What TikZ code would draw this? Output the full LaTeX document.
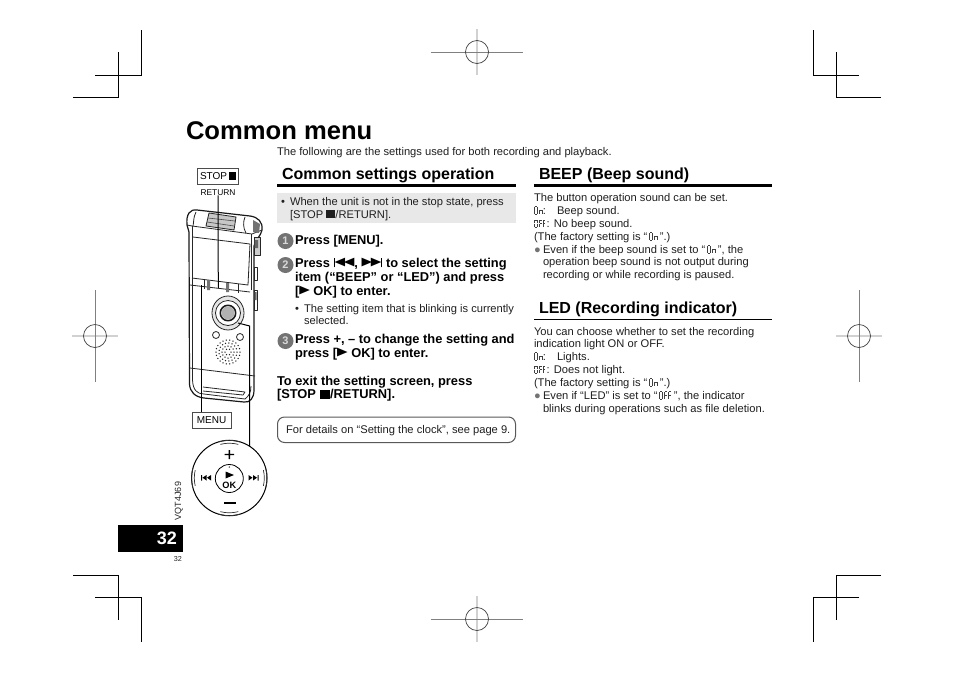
\documentclass[tikz,border=0pt]{standalone}
\usepackage{fontspec}
\usepackage{graphicx}
\setmainfont{Liberation Sans}
\newfontfamily\symf{DejaVu Sans}
\usetikzlibrary{shapes.geometric}
\newcommand\sg[4]{\rlap{\raisebox{#2pt}{\hspace*{#1pt}\textcolor{black!75}{\rule{#3pt}{#4pt}}}}}
\newcommand\sO{\sg{.6}{0}{2}{.45}\sg{.6}{7.4}{2}{.45}\sg{0}{.5}{.45}{3.2}\sg{0}{4.2}{.45}{3.2}\sg{2.8}{.5}{.45}{3.2}\sg{2.8}{4.2}{.45}{3.2}\hspace{5pt}}
\newcommand\sn{\sg{.6}{3.7}{2}{.45}\sg{0}{.5}{.45}{3.2}\sg{2.8}{.5}{.45}{3.2}\hspace{3.8pt}}
\newcommand\sF{\sg{.6}{3.7}{2}{.45}\sg{.6}{7.4}{2}{.45}\sg{0}{.5}{.45}{3.2}\sg{0}{4.2}{.45}{3.2}\hspace{3.8pt}}
\newcommand\segOn{\sO\sn}
\newcommand\segOff{\sO\sF\sF}
\newcommand\stopsq{\rule[-.02em]{.82em}{.72em}}
\newcommand\tri[1]{\raisebox{.09em}{\scalebox{1.2}[1]{\symf\fontsize{11.5}{12}\selectfont #1}}}
\newcommand\playsym{\tri{▶}}
\newcommand\prevsym{\rule[-.02em]{.08em}{.72em}\tri{◀\kern-.1em◀}}
\newcommand\nextsym{\tri{▶\kern-.1em▶}\rule[-.02em]{.08em}{.72em}}
\tikzset{
 every node/.style={inner sep=0pt,outer sep=0pt},
 tl/.style={anchor=base west,font=\fontsize{11.15}{12}\selectfont,text=black!88},
 bl/.style={anchor=base west,font=\fontsize{12.85}{14}\bfseries\selectfont},
 hd/.style={anchor=base west,font=\fontsize{16}{18}\bfseries\selectfont},
 crop/.style={line width=1pt,black},
 regthick/.style={line width=1.6pt,black!18},
 regthin/.style={line width=.7pt,black!50},
 regcirc/.style={line width=.7pt,black!75},
 stepdot/.style={circle,fill=black!55,minimum size=16pt,text=white!85!black,font=\fontsize{11}{11}\bfseries\selectfont},
 keybox/.style={draw=black!70,line width=.8pt,fill=white,minimum height=16pt,font=\fontsize{10}{10}\selectfont},
 dev/.style={line width=.8pt,black!85,line join=round},
 devo/.style={line width=1.2pt,black!90,line join=round},
 leader/.style={line width=1pt,black},
 hrule/.style={fill=black},
 nub/.style={line width=.7pt,black!80},
}
\begin{document}
\begin{tikzpicture}[x=1pt,y=-1pt]
\useasboundingbox (0,0) rectangle (954,673);
\fill[white] (0,0) rectangle (954,673);
% crop marks
\draw[crop] (141.5,30)--(141.5,75)--(95,75) (118.5,52)--(118.5,97)--(73,97);
\draw[crop] (813.5,30)--(813.5,75)--(859,75) (836.5,52)--(836.5,97)--(881,97);
\draw[crop] (73,575)--(118.5,575)--(118.5,620) (95,597)--(141.5,597)--(141.5,642);
\draw[crop] (881,575)--(836.5,575)--(836.5,620) (859,597)--(813.5,597)--(813.5,642);
% registration
\foreach \cx/\cy in {477/52,477/619}{
 \draw[regthick] (\cx,\cy-23)--(\cx,\cy+23);
 \draw[regthin] (\cx-46,\cy)--(\cx+46,\cy);
 \draw[regcirc] (\cx,\cy) circle (11.5);}
\foreach \cx/\cy in {95/336,859/336}{
 \draw[regthick] (\cx-23,\cy)--(\cx+23,\cy);
 \draw[regthin] (\cx,\cy-46)--(\cx,\cy+46);
 \draw[regcirc] (\cx,\cy) circle (11.5);}
% title
\node[anchor=base west,font=\fontsize{25.6}{28}\bfseries\selectfont] (title) at (186,139) {Common menu};
\node[tl] (sub) at (277,155) {The following are the settings used for both recording and playback.};
% headings
\node[hd] (h1) at (282,179) {Common settings operation};
\node[hd] (h2) at (539,179) {BEEP (Beep sound)};
\node[hd] (h3) at (539,313) {LED (Recording indicator)};
\fill[hrule] (277,184) rectangle (516,187);
\fill[hrule] (534,184) rectangle (772,187);
\fill[hrule] (534,318.5) rectangle (772,320.2);
% grey note
\fill[black!9] (277,193) rectangle (516,223);
\node[tl] (b0) at (281,205) {•};
\node[tl] (t01) at (290,205) {When the unit is not in the stop state, press};
\node[tl] (t02) at (290,218) {[STOP \stopsq/RETURN].};
% steps
\node[stepdot] (s1) at (285.5,241) {1};
\node[stepdot] (s2) at (285.5,265) {2};
\node[stepdot] (s3) at (285.5,341) {3};
\node[bl] (l1) at (295,244) {Press [MENU].};
\node[bl] (l2) at (295,267) {Press \prevsym, \nextsym\ to select the setting};
\node[bl] (l3) at (295,281) {item (“BEEP” or “LED”) and press};
\node[bl] (l4) at (295,295) {[\playsym\ OK] to enter.};
\node[tl] (b1) at (295,312) {•};
\node[tl] (l5) at (304,312) {The setting item that is blinking is currently};
\node[tl] (l6) at (304,324.5) {selected.};
\node[bl] (l7) at (295,343) {Press +, – to change the setting and};
\node[bl] (l8) at (295,357) {press [\playsym\ OK] to enter.};
\node[bl] (l9) at (277,385) {To exit the setting screen, press};
\node[bl] (l10) at (277,398.7) {[STOP \stopsq/RETURN].};
\draw[line width=1pt,black!65,rounded corners=7pt] (277.5,417) rectangle (515.5,442.5);
\node[tl] (l11) at (286,433) {For details on “Setting the clock”, see page 9.};
% BEEP
\node[tl] (r1) at (534,201) {The button operation sound can be set.};
\node[tl] (r2) at (534,214) {\segOn:};
\node[tl] (r2b) at (557,214) {Beep sound.};
\node[tl] (r3) at (534,227.5) {\segOff: No beep sound.};
\node[tl] (r4) at (534,240) {(The factory setting is “\,\segOn\,”.)};
\node[tl,text=black!55] (b2) at (534,253) {●};
\node[tl] (r5) at (543,253) {Even if the beep sound is set to “\,\segOn\,”, the};
\node[tl] (r6) at (543,265.5) {operation beep sound is not output during};
\node[tl] (r7) at (543,278) {recording or while recording is paused.};
% LED
\node[tl] (q1) at (534,335) {You can choose whether to set the recording};
\node[tl] (q2) at (534,347.5) {indication light ON or OFF.};
\node[tl] (q3) at (534,360) {\segOn:};
\node[tl] (q3b) at (557,360) {Lights.};
\node[tl] (q4) at (534,373.5) {\segOff: Does not light.};
\node[tl] (q5) at (534,386) {(The factory setting is “\,\segOn\,”.)};
\node[tl,text=black!55] (b3) at (534,399) {●};
\node[tl] (q6) at (543,399) {Even if “LED” is set to “\,\segOff\,”, the indicator};
\node[tl] (q7) at (543,412) {blinks during operations such as file deletion.};
% page tab
\fill[black] (118,525) rectangle (182.5,552);
\node[anchor=base east,text=white,font=\fontsize{18}{20}\bfseries\selectfont] (pg) at (177,544) {32};
\node[anchor=base east,font=\fontsize{7.2}{8}\selectfont,text=black!85] (pg2) at (182,561) {32};
\node[anchor=base west,rotate=90,font=\fontsize{9}{10}\selectfont,text=black!85] (vqt) at (181,520) {VQT4J69};
% device
\draw[devo] (187,225) .. controls (186,214) and (190,209) .. (197,210) -- (250,216) .. controls (258,217) and (263,222) .. (262,230) .. controls (261,236) and (255,240) .. (254,246) -- (254,390) .. controls (254,398) and (250,403) .. (244,402) -- (204,398) .. controls (195,397) and (190,392) .. (189.5,384) -- (189,232) -- cycle;
\draw[dev] (187,225) -- (192,226) -- (252,234) -- (262,230);
\draw[dev] (192.5,226) -- (192.5,380) .. controls (193,390) and (197,394) .. (204,394) -- (245,399) .. controls (249,396) and (251,392) .. (251,386);
\draw[dev] (251,234) -- (251,290);
\draw[dev] (193,237) -- (250,244) -- (248,285) -- (192,278);
\draw[dev] (190,285) -- (250,292);
\draw[dev] (204,279) -- (204,289) (238,284) -- (238,293);
\fill[black!55] (207,280) rectangle (210,290) (226,283) rectangle (229,292);
% cap shading
\draw[dev,fill=black!22] (209,213) -- (236,217) -- (234,230) -- (206,226) -- cycle;
\draw[line width=.6pt,black!70] (208,218)--(235,221) (207,222)--(234,226);
\draw[dev] (196,212) .. controls (193,218) and (194,222) .. (193,226);
\draw[dev] (245,217) .. controls (243,222) and (243,228) .. (246,233);
\fill[black!55] (253,220) -- (260,224) -- (259,233) -- (253,232) -- cycle;
% side controls
\draw[dev,fill=black!20] (254,237) rectangle (260,255);
\draw[dev] (254,267) rectangle (257,280) (254,290) rectangle (257,310);
\fill[black!60] (254.5,240) rectangle (258,248) (254.5,292) rectangle (256.5,300);
% keys ring
\draw[dev,fill=black!10] (228,313) ellipse (16 and 17);
\draw[dev,fill=white] (228,313) circle (12.5);
\draw[devo,line width=1.6pt] (228,313) circle (7.7);
\fill[black!30] (228,313) circle (6.5);
\draw[dev] (216,335) circle (3.5) (240,337) circle (3.5);
\foreach \r/\n in {3/6,6/12,9/17,12/22}{
 \foreach \a in {1,...,\n}{\fill[black!85] ({228+\r*cos(\a*360/\n)},{352+\r*sin(\a*360/\n)}) circle (.75);}}
\draw[dev] (190,368) -- (255,376);
\draw[dev] (203,387) -- (245,392) -- (243,395) -- (203,391);
% keys
\node[keybox,minimum width=41pt] (stop) at (218,176) {STOP\,\rule{.72em}{.72em}};
\node[font=\fontsize{8.4}{9}\selectfont] (ret) at (218,192.5) {RETURN};
\node[keybox,minimum width=39pt] (menu) at (211.5,420) {MENU};
\coordinate (menuend) at (201.7,285);
\coordinate (retend) at (218.3,288);
\coordinate (dialend) at (238,323);
\coordinate (dialknee) at (249.7,326);
\coordinate (dialin) at (249.7,447);
\draw[leader] (ret.south) -- (retend);
\draw[leader] (menu.north -| menuend) -- (menuend);
\draw[leader] (dialend) -- (dialknee) -- (dialin);
% dial
\coordinate (dc) at (229.3,478);
\draw[line width=1pt,fill=white] (dc) circle (37.7);
\draw[nub] (dc)+(107:37.7) arc (107:73:37.7) (dc)+(75:34.8) arc (75:105:34.8);
\draw[nub] (dc)+(-107:37.7) arc (-107:-73:37.7) (dc)+(-75:34.8) arc (-75:-105:34.8);
\draw[nub] (dc)+(165:37.7) arc (165:195:37.7) (dc)+(193:35) arc (193:167:35);
\draw[nub] (dc)+(15:37.7) arc (15:-15:37.7) (dc)+(-13:35) arc (-13:13:35);
\draw[line width=.8pt] (229.3,478.5) circle (14);
\fill[black!70] (229.3,467) circle (.8);
\fill (224.5,453.8) rectangle (234.1,455.2) (228.6,450) rectangle (230,459);
\fill (223.5,502.2) rectangle (235.5,504.2);
\node[font=\fontsize{9.2}{10}\bfseries\selectfont] (ok) at (229.3,485) {OK};
\fill (225.5,471.5) -- (234,475) -- (225.5,478.5) -- cycle;
\fill (201,475) rectangle (202,480.5) (206.5,475) -- (202.5,477.7) -- (206.5,480.5) -- cycle (211,475) -- (207,477.7) -- (211,480.5) -- cycle;
\fill (257.5,475) rectangle (258.5,480.5) (253,475) -- (257,477.7) -- (253,480.5) -- cycle (248.5,475) -- (252.5,477.7) -- (248.5,480.5) -- cycle;
\end{tikzpicture}
\end{document}
